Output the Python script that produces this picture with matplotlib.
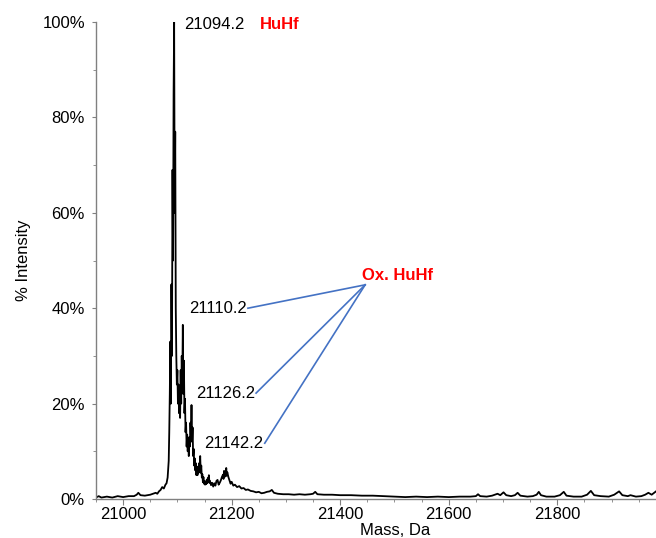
import matplotlib
matplotlib.use("Agg")
import matplotlib.pyplot as plt
from matplotlib.ticker import MultipleLocator, FuncFormatter

plt.rcParams['font.family'] = ['Liberation Sans', 'DejaVu Sans']

# spectrum: mass (Da), intensity (%)
mass = [20950, 20955, 20960, 20970, 20980, 20990, 21000, 21010, 21020, 21025,
        21028, 21032, 21040, 21050, 21055, 21060, 21063, 21066, 21069, 21072,
        21075, 21078, 21080, 21082, 21084, 21085, 21086, 21087, 21088, 21089,
        21090, 21091, 21092, 21093, 21094, 21095, 21096, 21097, 21098, 21099,
        21100, 21101, 21102, 21103, 21104, 21105, 21106, 21107, 21108, 21109,
        21110, 21111, 21112, 21113, 21114, 21115, 21116, 21117, 21118, 21119,
        21120, 21121, 21122, 21123, 21124, 21125, 21126, 21127, 21128, 21129,
        21130, 21131, 21132, 21133, 21134, 21135, 21136, 21137, 21138, 21139,
        21140, 21141, 21142, 21143, 21144, 21145, 21146, 21147, 21148, 21149,
        21150, 21151, 21152, 21153, 21154, 21155, 21156, 21157, 21158, 21159,
        21160, 21162, 21164, 21166, 21168, 21170, 21172, 21174, 21176, 21178,
        21180, 21182, 21184, 21185, 21186, 21187, 21188, 21189, 21190, 21191,
        21192, 21194, 21196, 21198, 21200, 21203, 21206, 21210, 21214, 21218,
        21222, 21226, 21230, 21235, 21240, 21245, 21250, 21255, 21260, 21265,
        21270, 21274, 21278, 21285, 21295, 21305, 21315, 21325, 21335, 21345,
        21350, 21354, 21358, 21370, 21385, 21400, 21420, 21440, 21460, 21480,
        21500, 21520, 21540, 21560, 21580, 21600, 21620, 21640, 21650, 21654,
        21658, 21670, 21680, 21690, 21695, 21701, 21706, 21715, 21722, 21727,
        21732, 21745, 21755, 21762, 21766, 21770, 21780, 21795, 21805, 21812,
        21817, 21830, 21845, 21855, 21862, 21868, 21880, 21895, 21905, 21914,
        21920, 21930, 21935, 21945, 21955, 21962, 21968, 21974, 21982]
intensity = [0.3, 0.6, 0.3, 0.5, 0.3, 0.6, 0.4, 0.6, 0.6, 0.9,
             1.3, 0.8, 0.7, 0.9, 1.1, 1.3, 1.1, 1.6, 1.9, 2.5,
             2.2, 3.0, 3.3, 4.5, 8.0, 14.0, 22.0, 33.0, 20.0, 45.0,
             30.0, 69.0, 50.0, 85.0, 100.0, 60.0, 77.0, 40.0, 30.0, 24.0,
             27.0, 20.0, 24.0, 18.0, 22.0, 17.0, 27.0, 20.0, 30.0, 24.0,
             36.5, 22.0, 29.0, 18.0, 21.0, 14.0, 16.0, 11.0, 13.5, 10.0,
             12.5, 9.0, 13.0, 11.0, 16.0, 13.0, 19.7, 12.0, 15.0, 9.0,
             10.5, 7.0, 8.5, 6.0, 7.5, 5.0, 6.5, 5.0, 6.8, 5.5,
             7.5, 6.0, 9.0, 5.5, 7.0, 4.5, 5.2, 3.5, 4.6, 3.2,
             3.8, 3.0, 3.6, 3.1, 4.0, 3.3, 4.4, 3.6, 5.0, 3.4,
             3.8, 2.9, 3.4, 2.6, 3.3, 2.8, 3.8, 4.0, 3.0, 3.4,
             3.9, 4.6, 5.1, 4.2, 5.9, 4.6, 5.6, 4.8, 6.5, 4.9,
             5.6, 4.6, 3.9, 3.2, 3.6, 2.8, 3.0, 2.5, 2.7, 2.2,
             2.3, 1.9, 2.0, 1.7, 1.6, 1.4, 1.5, 1.2, 1.3, 1.5,
             1.6, 1.9, 1.3, 1.1, 1.0, 1.0, 0.9, 1.0, 0.9, 1.0,
             1.1, 1.5, 1.0, 0.9, 0.9, 0.8, 0.8, 0.7, 0.7, 0.6,
             0.5, 0.4, 0.5, 0.4, 0.5, 0.4, 0.5, 0.5, 0.6, 1.0,
             0.6, 0.5, 0.7, 1.1, 0.8, 1.4, 0.8, 0.6, 0.8, 1.3,
             0.7, 0.5, 0.6, 0.9, 1.5, 0.8, 0.5, 0.5, 0.8, 1.5,
             0.7, 0.5, 0.5, 0.9, 1.7, 0.8, 0.6, 0.5, 0.9, 1.6,
             0.8, 0.6, 0.8, 0.5, 0.6, 0.9, 1.3, 0.9, 1.6]

x_ticks = [21000, 21200, 21400, 21600, 21800]

main_peak = (21094.2, "21094.2", "HuHf")
ox_labels = ["21110.2", "21126.2", "21142.2"]
ox_label_pos = [(21230, 40.0), (21245, 22.2), (21261, 11.7)]
ox_hub = (21446, 44.9)

fig = plt.figure(figsize=(6.56, 5.38), dpi=100)
ax = fig.add_axes([96 / 656, 39 / 538, 1 - 96 / 656, (516 - 39) / 538])

ax.plot(mass, intensity, color='black', lw=1.3)

ax.set_xlim(20950, 21982)
ax.set_ylim(0, 100)

for s in ['top', 'right']:
    ax.spines[s].set_visible(False)
for s in ['left', 'bottom']:
    ax.spines[s].set_color('#808080')
    ax.spines[s].set_linewidth(1.0)

ax.set_xticks(x_ticks)
ax.xaxis.set_minor_locator(MultipleLocator(50))
ax.yaxis.set_major_locator(MultipleLocator(20))
ax.yaxis.set_minor_locator(MultipleLocator(10))
ax.yaxis.set_major_formatter(FuncFormatter(lambda v, p: f"{int(v)}%"))
ax.tick_params(axis='both', which='major', labelsize=12, color='#808080')
ax.tick_params(axis='x', which='major', length=4, pad=2)
ax.tick_params(axis='y', which='major', length=3, pad=5)
ax.tick_params(axis='both', which='minor', length=2, color='#808080')

ax.set_ylabel("% Intensity", fontsize=12, labelpad=8)
fig.text(395 / 656, 15 / 538, "Mass, Da", fontsize=12, ha='center', va='top')

# main peak labels
ax.text(21112, 99.4, main_peak[1], fontsize=12, va='center', ha='left')
ax.text(21252, 99.4, main_peak[2], fontsize=12, va='center', ha='left',
        color='#FF0000', fontweight='bold')

# oxidised forms
ax.text(21440, 46.8, "Ox. HuHf", fontsize=12, va='center', ha='left',
        color='#FF0000', fontweight='bold')
for lab, (lx, ly) in zip(ox_labels, ox_label_pos):
    ax.text(lx - 2, ly, lab, fontsize=12, va='center', ha='right')
    ax.plot([lx, ox_hub[0]], [ly, ox_hub[1]], color='#4472C4', lw=1.2,
            clip_on=False)

fig.savefig("out.png", dpi=100)
